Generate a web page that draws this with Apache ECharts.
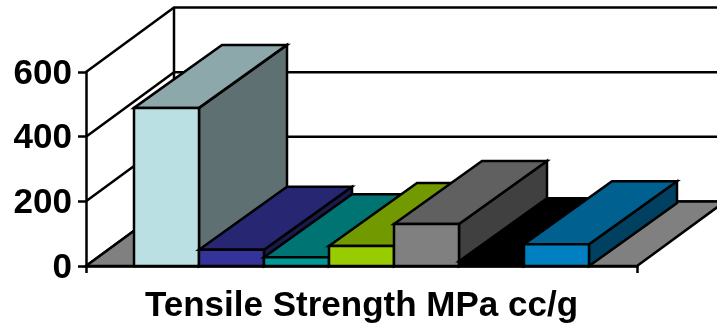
<!DOCTYPE html>
<html>
<head>
<meta charset="utf-8">
<style>html,body{margin:0;padding:0;background:#fff}#chart{width:717px;height:326px}</style>
<script src="https://cdn.jsdelivr.net/npm/echarts@6/dist/echarts.min.js"></script>
</head>
<body>
<div id="chart"></div>
<script>
// Clustered 3D-style column chart: one category, seven columns.
const categories = ['Tensile Strength MPa cc/g'];
const columnValues = [489, 50, 27, 62, 130, 15, 67];
const yTicks = [0, 200, 400, 600];
const frontColors = ['#BBE0E3', '#333399', '#009999', '#99CC00', '#808080', '#000000', '#0080C0'];
const topColors = ['#8CA8AA', '#262673', '#007373', '#739900', '#606060', '#000000', '#006090'];
const sideColors = ['#5E7072', '#1A1A4D', '#004D4D', '#4D6600', '#404040', '#000000', '#004060'];

// Oblique projection of the chart depth, and the cluster's gap in column widths.
const DEPTH_X = 88, DEPTH_Y = 64.5, COLUMN_DEPTH_Y = 63, GAP_WIDTH = 1.477;
const LINE_WIDTH = 2.5;
const STROKE = { stroke: '#000', lineWidth: LINE_WIDTH, lineJoin: 'miter' };

function poly(points, fill) {
  return { type: 'polygon', shape: { points }, style: Object.assign({ fill }, STROKE) };
}

// Side wall diagonal plus back wall line for one axis tick.
function renderWallLine(params, api) {
  const cs = params.coordSys;
  const p = api.coord([0, api.value(1)]);
  const y = p[1];
  const pts = [[cs.x, y], [cs.x + DEPTH_X, y - DEPTH_Y], [cs.x + cs.width + DEPTH_X, y - DEPTH_Y]];
  const children = [{ type: 'polyline', shape: { points: pts }, style: { stroke: '#000', lineWidth: LINE_WIDTH, fill: null } }];
  if (api.value(1) === yTicks[yTicks.length - 1]) {
    const base = api.coord([0, 0])[1];
    children.push({ type: 'line', shape: { x1: cs.x + DEPTH_X, y1: y - DEPTH_Y, x2: cs.x + DEPTH_X, y2: base - DEPTH_Y }, style: { stroke: '#000', lineWidth: LINE_WIDTH } });
  }
  return { type: 'group', children };
}

function renderFloor(params, api) {
  const cs = params.coordSys;
  const y = api.coord([0, 0])[1];
  return poly([[cs.x, y], [cs.x + cs.width, y], [cs.x + cs.width + DEPTH_X, y - DEPTH_Y], [cs.x + DEPTH_X, y - DEPTH_Y]], '#808080');
}

function renderColumn(index) {
  return function (params, api) {
    const band = api.size([1, 0])[0];
    const width = band / (columnValues.length + GAP_WIDTH);
    const center = api.coord([0, api.value(1)]);
    const x0 = center[0] - width * columnValues.length / 2 + width * index;
    const x1 = x0 + width;
    const top = center[1];
    const base = api.coord([0, 0])[1];
    const dy = COLUMN_DEPTH_Y;
    return {
      type: 'group',
      children: [
        poly([[x1, top], [x1 + DEPTH_X, top - dy], [x1 + DEPTH_X, base - dy], [x1, base]], sideColors[index]),
        poly([[x0, top], [x0 + DEPTH_X, top - dy], [x1 + DEPTH_X, top - dy], [x1, top]], topColors[index]),
        poly([[x0, top], [x1, top], [x1, base], [x0, base]], frontColors[index])
      ]
    };
  };
}

const wallSeries = {
  type: 'custom', silent: true, clip: false, z: 1,
  renderItem: renderWallLine,
  encode: { x: 0, y: 1 },
  data: yTicks.map(t => [0, t])
};
const floorSeries = {
  type: 'custom', silent: true, clip: false, z: 2,
  renderItem: renderFloor,
  encode: { x: 0, y: 1 },
  data: [[0, 0]]
};
const columnSeries = columnValues.map((v, i) => ({
  type: 'custom', silent: true, clip: false, z: 3 + i,
  renderItem: renderColumn(i),
  encode: { x: 0, y: 1 },
  data: [[0, v]]
}));

const chart = echarts.init(document.getElementById('chart'));
chart.setOption({
  animation: false,
  backgroundColor: '#fff',
  grid: { left: 86, right: 80, top: 72, bottom: 60 },
  xAxis: {
    type: 'category',
    data: categories,
    axisLine: { show: true, lineStyle: { color: '#000', width: 2.5 } },
    axisTick: { show: true, length: 7, lineStyle: { color: '#000', width: 2.5 } },
    axisLabel: { color: '#000', fontFamily: 'Liberation Sans', fontWeight: 'bold', fontSize: 35, margin: 23 }
  },
  yAxis: {
    type: 'value', min: 0, max: 600, interval: 200,
    splitLine: { show: false },
    axisLine: { show: true, lineStyle: { color: '#000', width: 2.5 } },
    axisTick: { show: true, length: 8, lineStyle: { color: '#000', width: 2.5 } },
    axisLabel: { color: '#000', fontFamily: 'Liberation Sans', fontWeight: 'bold', fontSize: 35, margin: 14, verticalAlign: 'top', lineHeight: 4 }
  },
  series: [wallSeries, floorSeries].concat(columnSeries)
});
</script>
</body>
</html>
